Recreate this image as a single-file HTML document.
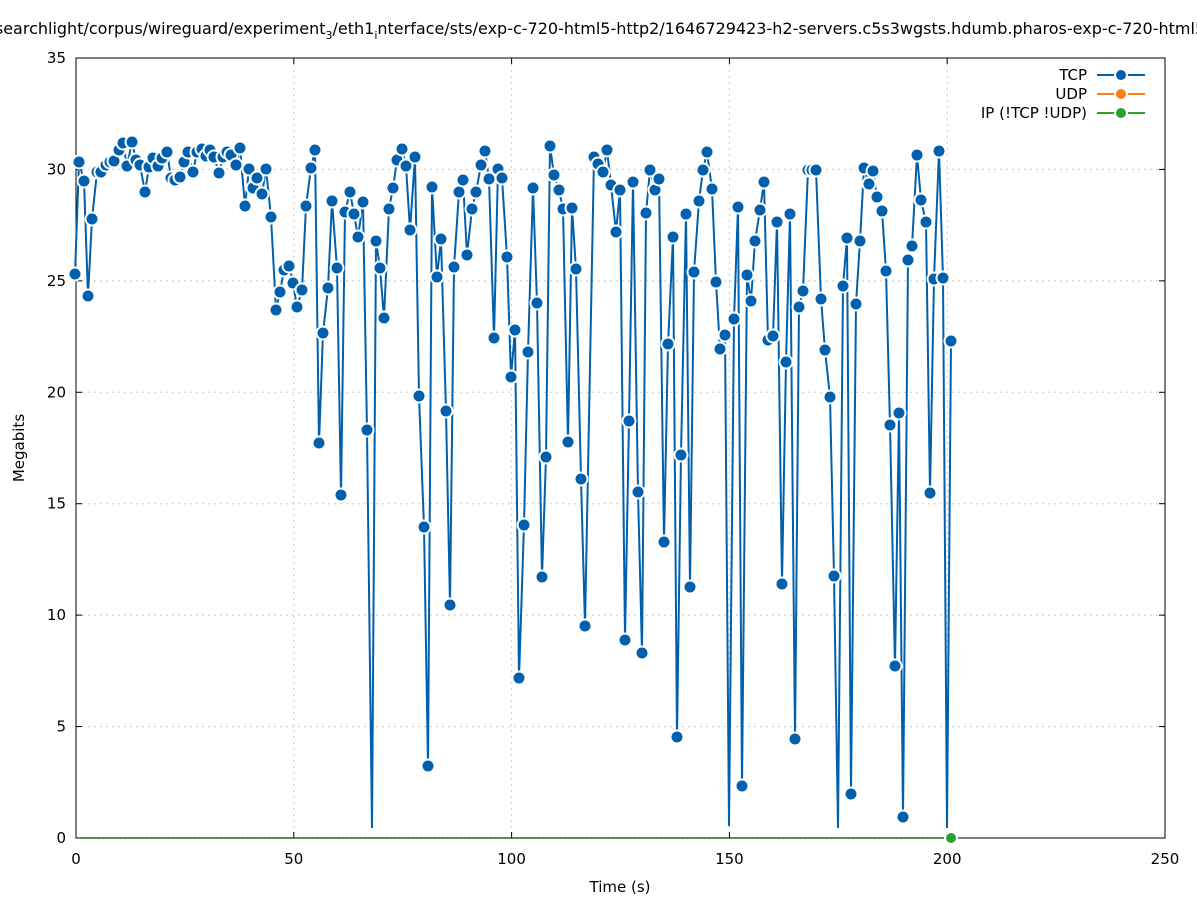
<!DOCTYPE html>
<html><head><meta charset="utf-8"><style>
body{margin:0;background:#fff;overflow:hidden;}
svg text{font-family:"DejaVu Sans","Liberation Sans",sans-serif;font-size:15px;fill:#000;}
</style></head><body>
<svg id="s" width="1197" height="900" xmlns="http://www.w3.org/2000/svg">
<rect width="1197" height="900" fill="#fff"/>
<g id="grid" stroke="#c8c8c8" stroke-width="1" stroke-dasharray="2,4"></g>
<rect x="76" y="58" width="1089" height="780" fill="none" stroke="#000" stroke-width="1"/>
<g id="ticks"></g>
<text x="600" y="34" text-anchor="middle" style="font-size:16px">searchlight/corpus/wireguard/experiment<tspan dy="5" style="font-size:11px">3</tspan><tspan dy="-5">/eth1</tspan><tspan dy="5" style="font-size:11px">i</tspan><tspan dy="-5">nterface/sts/exp-c-720-html5-http2/1646729423-h2-servers.c5s3wgsts.hdumb.pharos-exp-c-720-html5</tspan></text>
<text x="620" y="892" text-anchor="middle">Time (s)</text>
<text transform="translate(24,448) rotate(-90)" text-anchor="middle">Megabits</text>
<line x1="76" y1="838" x2="951" y2="838" stroke="#2ca02c" stroke-width="2" stroke-dasharray="2,2.36"/>
<g id="series"></g>
<circle cx="951" cy="838" r="6" fill="#2ca02c" stroke="#fff" stroke-width="2"/>
<g>
<text x="1087" y="80" text-anchor="end">TCP</text>
<line x1="1097" y1="75" x2="1145" y2="75" stroke="#0060ad" stroke-width="2"/><circle cx="1121" cy="75" r="6" fill="#0060ad" stroke="#fff" stroke-width="2"/>
<text x="1087" y="99" text-anchor="end">UDP</text>
<line x1="1097" y1="94" x2="1145" y2="94" stroke="#ff7f0e" stroke-width="2"/><circle cx="1121" cy="94" r="6" fill="#ff7f0e" stroke="#fff" stroke-width="2"/>
<text x="1087" y="118" text-anchor="end">IP (!TCP  !UDP)</text>
<line x1="1097" y1="113" x2="1145" y2="113" stroke="#2ca02c" stroke-width="2"/><circle cx="1121" cy="113" r="6" fill="#2ca02c" stroke="#fff" stroke-width="2"/>
</g>
</svg>
<script>
var NS="http://www.w3.org/2000/svg";
function el(t,a,p){var e=document.createElementNS(NS,t);for(var k in a)e.setAttribute(k,a[k]);(p||document.getElementById('s')).appendChild(e);return e;}
var g=document.getElementById('grid'),tk=document.getElementById('ticks');
for(var i=0;i<=5;i++){var x=76+i*217.8;if(i>0&&i<5)el('line',{x1:x,y1:58,x2:x,y2:838},g);
el('line',{x1:x,y1:838,x2:x,y2:832,stroke:'#000'},tk);el('line',{x1:x,y1:58,x2:x,y2:64,stroke:'#000'},tk);
var t=el('text',{x:x,y:864,'text-anchor':'middle'},tk);t.textContent=i*50;}
for(var j=0;j<=7;j++){var y=838-j*111.43;if(j>0&&j<7)el('line',{x1:76,y1:y,x2:1165,y2:y},g);
el('line',{x1:76,y1:y,x2:82,y2:y,stroke:'#000'},tk);el('line',{x1:1165,y1:y,x2:1159,y2:y,stroke:'#000'},tk);
var t=el('text',{x:66,y:y+5,'text-anchor':'end'},tk);t.textContent=j*5;}
var d=[75,274,79,162,84,181,88,296,92,219,97,172,101,172,106,165,110,162,114,161,119,150,123,143,127,166,132,142,136,160,140,165,145,192,149,167,153,158,158,166,162,158,167,152,171,178,175,180,180,177,184,162,188,152,193,172,197,152,202,149,206,156,210,150,214,157,219,173,223,157,227,152,231,155,236,165,240,148,245,206,249,169,253,188,257,178,262,194,266,169,271,217,276,310,280,292,284,270,289,266,293,283,297,307,302,290,306,206,311,168,315,150,319,443,323,333,328,288,332,201,337,268,341,495,345,212,350,192,354,214,358,237,363,202,367,430,372,828,376,241,380,268,384,318,389,209,393,188,397,160,402,149,406,166,410,230,415,157,419,396,424,527,428,766,432,187,437,277,441,239,446,411,450,605,454,267,459,192,463,180,467,255,472,209,476,192,481,165,485,151,489,179,494,338,498,169,502,178,507,257,511,377,515,330,519,678,524,525,528,352,533,188,537,303,542,577,546,457,550,146,554,175,559,190,563,209,568,442,572,208,576,269,581,479,585,626,594,157,598,164,603,172,607,150,611,185,616,232,620,190,625,640,629,421,633,182,638,492,642,653,646,213,650,170,655,190,659,179,664,542,668,344,673,237,677,737,681,455,686,214,690,587,694,272,699,201,703,170,707,152,712,189,716,282,720,349,725,335,729,826,734,319,738,207,742,786,747,275,751,301,755,241,760,210,764,182,768,340,773,336,777,222,782,584,786,362,790,214,795,739,799,307,803,291,808,170,812,170,816,170,821,299,825,350,830,397,834,576,838,828,843,286,847,238,851,794,856,304,860,241,864,168,869,184,873,171,877,197,882,211,886,271,890,425,895,666,899,413,903,817,908,260,912,246,917,155,921,200,926,222,930,493,934,279,939,151,943,278,947,828,951,341];
var sg=document.getElementById('series'),pts=[];
for(var i=0;i<d.length;i+=2)pts.push(d[i]+','+d[i+1]);
el('polyline',{points:pts.join(' '),fill:'none',stroke:'#0060ad','stroke-width':2},sg);
for(var i=0;i<d.length;i+=2){if(d[i+1]>=820)continue;el('circle',{cx:d[i],cy:d[i+1],r:6.5,fill:'#0060ad',stroke:'#fff','stroke-width':2},sg);}
</script>
</body></html>
